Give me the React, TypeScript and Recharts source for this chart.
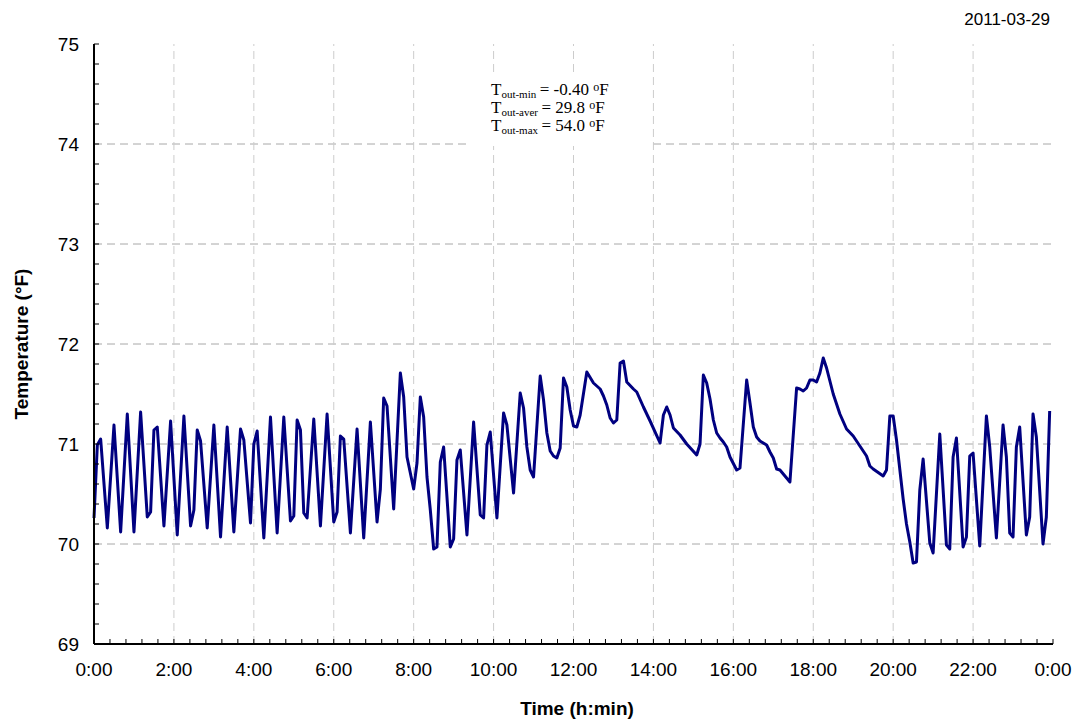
import { LineChart, Line, XAxis, YAxis, ReferenceLine } from 'recharts';

// minutes after midnight, read at each turn of the trace
const times = [
  0, 5, 10, 20, 30, 40, 50, 60, 70, 80, 85, 90, 95, 105, 115, 125, 135, 145, 150, 155, 160, 170, 180, 190, 200, 210, 220,
  225, 235, 240, 245, 255, 265, 275, 285, 295, 300, 305, 310, 315, 320, 330, 340, 350, 360, 365, 370, 375, 385, 395, 405,
  415, 425, 430, 435, 440, 450, 460, 465, 470, 480, 485, 490, 495, 500, 505, 510, 515, 520, 525, 535, 540, 545, 550, 560,
  570, 580, 585, 590, 595, 605, 615, 620, 630, 640, 645, 650, 655, 660, 670, 675, 680, 685, 690, 695, 700, 705, 710, 715,
  720, 725, 730, 740, 750, 760, 765, 770, 775, 780, 785, 790, 795, 800, 810, 815, 825, 835, 850, 855, 860, 865, 870, 880,
  890, 905, 910, 915, 920, 925, 930, 935, 940, 945, 950, 955, 965, 970, 980, 985, 990, 995, 1000, 1010, 1015, 1020, 1025,
  1030, 1045, 1055, 1060, 1065, 1070, 1075, 1080, 1085, 1090, 1095, 1100, 1110, 1120, 1130, 1140, 1150, 1160, 1165, 1170,
  1185, 1190, 1195, 1200, 1205, 1215, 1220, 1225, 1230, 1235, 1240, 1245, 1255, 1260, 1270, 1280, 1285, 1290, 1295, 1305,
  1310, 1315, 1320, 1330, 1340, 1345, 1355, 1365, 1370, 1375, 1380, 1385, 1390, 1400, 1405, 1410, 1415, 1425, 1430, 1435,
];

const temps = [
  70.26, 70.99, 71.05, 70.16, 71.19, 70.12, 71.3, 70.12, 71.32, 70.27, 70.32, 71.14, 71.17, 70.18, 71.23, 70.09, 71.28,
  70.18, 70.34, 71.14, 71.03, 70.16, 71.19, 70.07, 71.17, 70.12, 71.15, 71.04, 70.21, 71.0, 71.13, 70.06, 71.27, 70.11,
  71.27, 70.23, 70.28, 71.24, 71.14, 70.31, 70.26, 71.25, 70.18, 71.3, 70.22, 70.32, 71.08, 71.05, 70.11, 71.15, 70.06,
  71.22, 70.22, 70.55, 71.46, 71.38, 70.35, 71.71, 71.47, 70.87, 70.55, 70.81, 71.47, 71.27, 70.67, 70.34, 69.95, 69.97,
  70.82, 70.97, 69.97, 70.05, 70.84, 70.94, 70.09, 71.22, 70.29, 70.26, 70.99, 71.12, 70.26, 71.31, 71.19, 70.51, 71.51,
  71.36, 70.97, 70.74, 70.67, 71.68, 71.44, 71.11, 70.93, 70.88, 70.86, 70.96, 71.66, 71.57, 71.34, 71.18, 71.17, 71.29,
  71.72, 71.61, 71.55, 71.48, 71.39, 71.26, 71.21, 71.24, 71.81, 71.83, 71.62, 71.55, 71.52, 71.37, 71.23, 71.01, 71.29,
  71.37, 71.29, 71.16, 71.09, 71.0, 70.89, 71.0, 71.69, 71.61, 71.45, 71.24, 71.11, 71.06, 71.02, 70.97, 70.87, 70.74,
  70.76, 71.64, 71.41, 71.17, 71.07, 71.03, 70.99, 70.92, 70.86, 70.75, 70.74, 70.62, 71.56, 71.55, 71.53, 71.56, 71.64,
  71.64, 71.62, 71.71, 71.86, 71.76, 71.5, 71.3, 71.15, 71.08, 70.98, 70.88, 70.78, 70.75, 70.68, 70.74, 71.28, 71.28,
  71.04, 70.45, 70.2, 70.02, 69.81, 69.82, 70.54, 70.85, 70.01, 69.91, 71.1, 69.99, 69.95, 70.87, 71.06, 69.97, 70.07,
  70.88, 70.91, 69.98, 71.28, 70.97, 70.06, 71.19, 70.87, 70.11, 70.07, 70.97, 71.17, 70.09, 70.27, 71.3, 71.07, 70.0,
  70.27, 71.33,
];

const xMajorTicks = [0, 120, 240, 360, 480, 600, 720, 840, 960, 1080, 1200, 1320, 1440];
const xTickLabels = ['0:00', '2:00', '4:00', '6:00', '8:00', '10:00', '12:00', '14:00', '16:00', '18:00', '20:00', '22:00', '0:00'];
const yMajorTicks = [69, 70, 71, 72, 73, 74, 75];
const yTickLabels = ['69', '70', '71', '72', '73', '74', '75'];

const xMinorTicks = Array.from({ length: 61 }, (_, i) => i * 24);
const yMinorTicks = Array.from({ length: 31 }, (_, i) => Math.round((69 + i * 0.2) * 10) / 10);

const data = times.map((t, i) => ({ t, temp: temps[i] }));

const sans = 'Liberation Sans, Arial, sans-serif';
const serif = 'Liberation Serif, Times New Roman, serif';

const XTick = (props: any) => {
  const { x, y, payload } = props;
  const idx = xMajorTicks.indexOf(payload.value);
  return (
    <g>
      <line x1={x} x2={x} y1={y} y2={y - 5} stroke="#000" strokeWidth={1} />
      {idx >= 0 && (
        <text x={x} y={y + 32} textAnchor="middle" fontSize={19} fontFamily={sans} fill="#000">
          {xTickLabels[idx]}
        </text>
      )}
    </g>
  );
};

const YTick = (props: any) => {
  const { x, y, payload } = props;
  const idx = yMajorTicks.indexOf(payload.value);
  return (
    <g>
      <line x1={x} x2={x + 5} y1={y} y2={y} stroke="#000" strokeWidth={1} />
      {idx >= 0 && (
        <text x={x - 15} y={y + 7} textAnchor="end" fontSize={19} fontFamily={sans} fill="#000">
          {yTickLabels[idx]}
        </text>
      )}
    </g>
  );
};

const statSubs = ['out-min', 'out-aver', 'out-max'];
const statValues = ['-0.40', '29.8', '54.0'];

export default function App() {
  return (
    <div style={{ position: 'absolute', left: 0, top: 0, width: 1076, height: 721, background: '#fff' }}>
      <LineChart width={1076} height={721} data={data} margin={{ top: 44, right: 23, left: 0, bottom: 0 }}>
        <XAxis
          dataKey="t"
          type="number"
          domain={[0, 1440]}
          ticks={xMinorTicks}
          interval={0}
          tick={<XTick />}
          tickLine={false}
          tickSize={0}
          tickMargin={0}
          height={77}
          axisLine={{ stroke: '#000', strokeWidth: 2 }}
        />
        <XAxis xAxisId="top" orientation="top" type="number" domain={[0, 1440]} height={0} tick={false} tickLine={false} axisLine={{ stroke: '#000', strokeWidth: 2 }} />
        <YAxis
          type="number"
          domain={[69, 75]}
          ticks={yMinorTicks}
          interval={0}
          tick={<YTick />}
          tickLine={false}
          tickSize={0}
          tickMargin={0}
          width={94}
          axisLine={{ stroke: '#000', strokeWidth: 2 }}
        />
        <YAxis yAxisId="right" orientation="right" type="number" domain={[69, 75]} width={0} tick={false} tickLine={false} axisLine={{ stroke: '#000', strokeWidth: 2 }} />
        {yMajorTicks.slice(1, -1).map((v) => (
          <ReferenceLine key={'h' + v} y={v} stroke="#a8a8a8" strokeDasharray="8 5" />
        ))}
        {xMajorTicks.slice(1, -1).map((v) => (
          <ReferenceLine key={'v' + v} x={v} stroke="#cccccc" strokeDasharray="8 5" />
        ))}
        <Line
          type="linear"
          dataKey="temp"
          stroke="#000080"
          strokeWidth={3}
          dot={false}
          strokeLinejoin="round"
          isAnimationActive={false}
        />
      </LineChart>
      <svg width={1076} height={721} style={{ position: 'absolute', left: 0, top: 0, pointerEvents: 'none' }}>
        <text x={1050} y={25} textAnchor="end" fontSize={17} fontFamily={sans} fill="#000">
          2011-03-29
        </text>
        <text x={577} y={715} textAnchor="middle" fontSize={19} fontWeight="bold" fontFamily={sans} fill="#000">
          Time (h:min)
        </text>
        <text
          x={0}
          y={0}
          transform="translate(28 344) rotate(-90)"
          textAnchor="middle"
          fontSize={19}
          fontWeight="bold"
          fontFamily={sans}
          fill="#000"
        >
          Temperature (°F)
        </text>
        <rect x={466} y={76} width={184} height={70} fill="#fff" />
        {statSubs.map((sub, i) => (
          <text key={sub} x={491} y={95 + i * 18} fontSize={17} fontFamily={serif} fill="#000">
            <tspan>T</tspan>
            <tspan fontSize={11} dy={3}>
              {sub}
            </tspan>
            <tspan dy={-3}>{'\u2009= ' + statValues[i] + ' '}</tspan>
            <tspan fontSize={12} dy={-4}>o</tspan>
            <tspan dy={4}>F</tspan>
          </text>
        ))}
      </svg>
    </div>
  );
}
